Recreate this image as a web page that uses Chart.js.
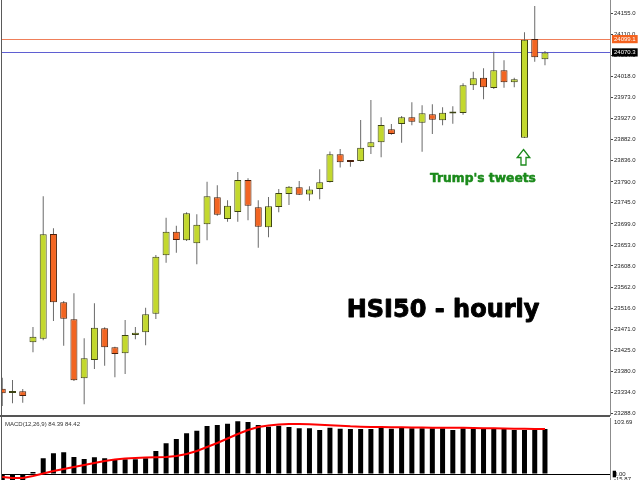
<!DOCTYPE html>
<html><head><meta charset="utf-8">
<script src="https://cdn.jsdelivr.net/npm/chart.js@4.4.1/dist/chart.umd.min.js"></script>
<style>
html,body{margin:0;padding:0;background:#fff;overflow:hidden;width:640px;height:480px;}
#main{position:absolute;left:0;top:0;}
#macd{position:absolute;left:0;top:415px;}
</style></head><body>
<canvas id="main" width="640" height="416"></canvas>
<canvas id="macd" width="640" height="71"></canvas>
<script>
// ---- data (hourly candles, HSI50) ----
const opens  = [23342.3,23333.0,23336.6,23442.7,23450.5,23677.2,23529.3,23492.5,23364.8,23404.4,
                23473.0,23431.9,23418.9,23458.5,23464.4,23504.6,23631.1,23682.2,23663.6,23657.1,
                23698.2,23756.6,23709.7,23724.8,23794.1,23735.0,23691.7,23735.6,23763.8,23778.3,
                23762.7,23774.6,23789.8,23849.7,23834.2,23835.2,23864.9,23875.7,23903.9,23915.3,
                23929.9,23918.2,23936.3,23923.4,23938.1,23939.2,23999.1,24015.6,23993.3,24031.6,
                24005.6,23885.7,24099.1,24055.4];
const highs  = [23366.1,23361.1,23341.6,23475.8,23758.8,23689.5,23532.0,23548.8,23451.4,23527.2,
                23475.5,23433.0,23491.0,23475.8,23517.6,23631.7,23712.5,23695.2,23724.2,23719.8,
                23790.4,23782.6,23750.2,23811.4,23797.8,23750.2,23757.3,23774.6,23781.1,23791.9,
                23780.5,23817.3,23855.8,23861.2,23834.6,23924.0,23967.3,23929.9,23915.3,23932.7,
                23962.3,23955.8,23958.0,23951.5,23953.7,24003.5,24028.6,24035.9,24071.9,24053.3,
                24015.6,24113.9,24170.8,24073.4];
const lows   = [23304.8,23310.7,23312.0,23421.1,23447.1,23488.8,23435.4,23359.0,23308.5,23384.9,
                23392.1,23367.0,23374.1,23449.2,23436.2,23493.2,23615.1,23636.7,23662.0,23611.6,
                23663.6,23716.8,23703.8,23703.8,23706.9,23647.5,23670.0,23724.2,23740.0,23761.6,
                23749.3,23752.3,23788.7,23821.2,23822.9,23834.0,23850.4,23843.3,23892.2,23874.9,
                23912.5,23855.4,23893.7,23912.5,23916.0,23935.5,23989.0,23968.8,23991.0,23993.9,
                23994.8,23885.0,24050.2,24042.4];
const closes = [23332.3,23336.6,23326.5,23454.8,23676.5,23529.3,23493.8,23360.4,23408.1,23474.3,
                23431.9,23417.4,23458.5,23463.5,23503.3,23628.0,23682.2,23664.2,23722.0,23697.3,
                23758.8,23719.0,23738.5,23794.1,23738.5,23693.0,23737.2,23766.0,23779.6,23762.3,
                23773.5,23789.1,23849.7,23832.4,23833.1,23864.0,23875.7,23913.2,23893.7,23929.9,
                23920.3,23938.5,23924.7,23939.8,23938.7,23999.1,24014.3,23994.8,24031.6,24005.6,
                24012.1,24097.9,24059.7,24070.3];
const priceTicks = [24155.0,24110.0,24064.0,24018.0,23973.0,23927.0,23882.0,23836.0,23790.0,23745.0,
                    23699.0,23653.0,23608.0,23562.0,23516.0,23471.0,23425.0,23380.0,23334.0,23288.0];
const priceLevels = [24099.1, 24070.3];
const macdMain   = [-15.87,-14.5,-13.2,3.8,29.4,38.8,40.7,31.9,28.1,31.3,
                    29.4,28.1,27.6,27.6,29.4,43.2,57.6,65.7,76.4,81.2,
                    90.1,91.9,94.4,99.0,97.6,91.9,88.7,90.6,88.2,85.7,
                    85.7,82.6,86.9,85.0,84.4,84.4,84.4,87.6,85.0,87.6,
                    85.7,85.7,85.7,85.7,82.6,85.7,85.7,84.4,85.7,84.4,
                    82.6,82.6,82.6,84.39];
const macdSignal = [-5.6,-7.5,-7.5,-3.8,0.9,5.6,9.4,13.1,16.9,20.6,
                    24.4,27.2,29.1,30.0,31.0,31.3,31.9,33.8,37.5,43.2,
                    50.7,58.2,66.6,75.0,82.6,88.2,91.0,92.9,93.8,93.8,
                    93.2,92.4,91.6,90.5,89.4,88.8,88.3,88.0,87.8,87.6,
                    87.3,87.0,86.9,86.9,86.7,86.6,86.2,85.8,85.6,85.3,
                    85.0,84.8,84.6,84.42];
const macdTicks = [103.69, 0, -15.87];
const macdLabel = 'MACD(12,26,9) 84.39 84.42';
const titleText = 'HSI50 - hourly';
const noteText = "Trump's tweets";
const noteCandle = 51;

// ---- styles / placement ----
const GREEN = '#C3D82E', ORANGE = '#F26522';
const levelLineColors = ['#EF7F5A', '#5F5FD2'];
const levelBoxColors = ['#F4621F', '#000000'];
const X_MIN = -0.025, X_MAX = 59.35;
const Y_MIN = 23283.2, Y_MAX = 24183.8;
const titlePos = {x: 33.64, y: 23496.9};
const notePos = {x: 41.77, y: 23790.4};

const idx = opens.map((_, i) => i);
const bull = idx.map(i => closes[i] >= opens[i]);
const isLevel = c => !!(c && c.tick && priceLevels.indexOf(c.tick.value) >= 0);

const mainDecor = {
  id: 'mainDecor',
  beforeDatasetsDraw(chart) {
    const {ctx, chartArea: a, scales: {y}} = chart;
    ctx.save();
    ctx.lineWidth = 1;
    priceLevels.forEach((v, k) => {
      const py = Math.round(y.getPixelForValue(v)) + 0.5;
      ctx.strokeStyle = levelLineColors[k];
      ctx.beginPath(); ctx.moveTo(a.left, py); ctx.lineTo(a.right, py); ctx.stroke();
    });
    ctx.restore();
  },
  afterDraw(chart) {
    const {ctx, chartArea: a, scales: {x, y}} = chart;
    ctx.save();
    ctx.fillStyle = '#5a5a5a';
    ctx.fillRect(a.left - 1, 0, 1, a.bottom);
    ctx.lineJoin = 'round';
    // title
    ctx.fillStyle = '#000'; ctx.strokeStyle = '#000'; ctx.lineWidth = 0.9;
    ctx.font = "bold 24px 'DejaVu Sans'";
    ctx.textAlign = 'left'; ctx.textBaseline = 'alphabetic';
    const tx = x.getPixelForValue(titlePos.x), ty = y.getPixelForValue(titlePos.y);
    ctx.fillText(titleText, tx, ty);
    ctx.strokeText(titleText, tx, ty);
    // note
    ctx.fillStyle = '#1B8A1B'; ctx.strokeStyle = '#1B8A1B'; ctx.lineWidth = 0.5;
    ctx.font = "bold 12.3px 'DejaVu Sans'";
    const nx = x.getPixelForValue(notePos.x), ny = y.getPixelForValue(notePos.y);
    ctx.fillText(noteText, nx, ny);
    ctx.strokeText(noteText, nx, ny);
    // arrow under the candle
    const cx = x.getPixelForValue(noteCandle) - 1;
    const top = y.getPixelForValue(lows[noteCandle]) + 11.5;
    ctx.beginPath();
    ctx.moveTo(cx, top);
    ctx.lineTo(cx + 6.3, top + 8);
    ctx.lineTo(cx + 2.5, top + 8);
    ctx.lineTo(cx + 2.5, top + 15.5);
    ctx.lineTo(cx - 2.5, top + 15.5);
    ctx.lineTo(cx - 2.5, top + 8);
    ctx.lineTo(cx - 6.3, top + 8);
    ctx.closePath();
    ctx.fillStyle = '#fff'; ctx.fill();
    ctx.lineJoin = 'miter';
    ctx.strokeStyle = '#1B8A1B'; ctx.lineWidth = 1.3; ctx.stroke();
    ctx.restore();
  }
};

new Chart(document.getElementById('main'), {
  type: 'bar',
  data: {
    datasets: [
      { label: 'wick', data: idx.map(i => ({x: i, y: [lows[i], highs[i]]})),
        backgroundColor: '#6a6a6a', maxBarThickness: 1, grouped: false, clip: 0, order: 2 },
      { label: 'body', data: idx.map(i => ({x: i, y: [opens[i], closes[i]]})),
        backgroundColor: bull.map(b => b ? GREEN : ORANGE),
        borderColor: bull.map(b => b ? '#3d4414' : '#4a200c'),
        borderWidth: 1, borderSkipped: false, maxBarThickness: 7, minBarLength: 2,
        grouped: false, clip: 0, order: 1 }
    ]
  },
  options: {
    responsive: false, animation: false, devicePixelRatio: 1,
    layout: {padding: {left: 2, right: 0, top: 0, bottom: 0}},
    plugins: {legend: {display: false}, tooltip: {enabled: false}, title: {display: false}},
    scales: {
      x: {type: 'linear', min: X_MIN, max: X_MAX, display: false, offset: false},
      y: {
        position: 'right', min: Y_MIN, max: Y_MAX,
        afterBuildTicks: s => { s.ticks = priceTicks.concat(priceLevels).map(v => ({value: v})); },
        afterFit: s => { s.width = 30; s.paddingTop = 0; s.paddingBottom = 0; },
        ticks: {
          autoSkip: false, padding: 1,
          font: {family: 'Liberation Sans', size: 6},
          color: c => isLevel(c) ? '#ffffff' : '#222222',
          callback: v => Number(v).toFixed(1),
          showLabelBackdrop: c => isLevel(c),
          backdropColor: c => isLevel(c) ? levelBoxColors[priceLevels.indexOf(c.tick.value)] : 'rgba(0,0,0,0)',
          backdropPadding: {top: 0.5, bottom: 0.5, left: 2, right: 2}
        },
        grid: {drawOnChartArea: false, drawTicks: true, tickLength: 3, tickWidth: 1,
               tickColor: c => isLevel(c) ? 'rgba(0,0,0,0)' : '#444'},
        border: {display: true, color: '#8c8c8c', width: 1}
      }
    }
  },
  plugins: [mainDecor]
});

const macdDecor = {
  id: 'macdDecor',
  afterDraw(chart) {
    const {ctx, chartArea: a, scales: {y}} = chart;
    ctx.save();
    ctx.fillStyle = '#555';
    ctx.fillRect(0, 0, a.right, 2);
    ctx.fillStyle = '#5a5a5a';
    ctx.fillRect(a.left - 1, 2, 1, chart.height);
    ctx.fillStyle = '#333';
    ctx.font = "6px 'Liberation Sans'";
    ctx.textAlign = 'left'; ctx.textBaseline = 'middle';
    ctx.fillText(macdLabel, a.left + 3, 9);
    const z = y.getPixelForValue(0);
    ctx.fillStyle = '#000';
    ctx.fillRect(a.right + 2.7, z - 3.3, 3.3, 6.6);
    ctx.restore();
  }
};

new Chart(document.getElementById('macd'), {
  type: 'bar',
  data: {
    datasets: [
      { type: 'line', label: 'signal', data: idx.map(i => ({x: i, y: macdSignal[i]})),
        borderColor: '#FF0000', borderWidth: 2, pointRadius: 0, tension: 0, order: 1 },
      { label: 'macd', data: idx.map(i => ({x: i, y: macdMain[i]})),
        backgroundColor: '#000', maxBarThickness: 5, grouped: false, clip: 0, order: 2 }
    ]
  },
  options: {
    responsive: false, animation: false, devicePixelRatio: 1,
    layout: {padding: {left: 2, right: 0, top: 3.7, bottom: 3.5}},
    plugins: {legend: {display: false}, tooltip: {enabled: false}},
    scales: {
      x: {type: 'linear', min: X_MIN, max: X_MAX, display: false, offset: false},
      y: {
        position: 'right', min: -15.87, max: 103.69,
        afterBuildTicks: s => { s.ticks = macdTicks.map(v => ({value: v})); },
        afterFit: s => { s.width = 30; s.paddingTop = 0; s.paddingBottom = 0; },
        ticks: {
          autoSkip: false, padding: 1,
          font: {family: 'Liberation Sans', size: 6},
          color: '#222',
          callback: v => {
            const t = Number(v).toFixed(2);
            if (v === macdTicks[0]) return ['', t];
            if (v === macdTicks[2]) return [t, ''];
            return t;
          }
        },
        grid: {drawOnChartArea: true, drawTicks: true, tickLength: 3,
               tickColor: 'rgba(0,0,0,0)',
               color: c => (c.tick && c.tick.value === 0) ? '#000' : 'rgba(0,0,0,0)'},
        border: {display: true, color: '#8c8c8c', width: 1}
      }
    }
  },
  plugins: [macdDecor]
});
</script>
</body></html>
